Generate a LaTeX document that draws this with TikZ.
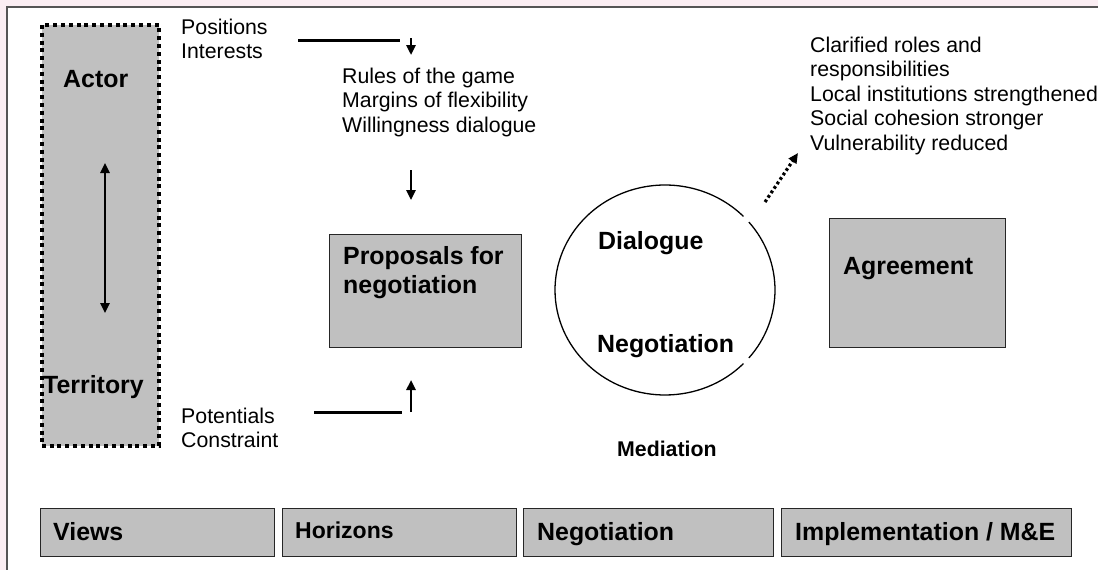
\documentclass[tikz,border=0pt]{standalone}
\usepackage{fontspec}
\setmainfont{Liberation Sans}
\usetikzlibrary{arrows.meta}
\definecolor{boxgray}{HTML}{C0C0C0}
\definecolor{pinkbg}{HTML}{FBEEF3}
\definecolor{framegray}{HTML}{555555}
\begin{document}
\begin{tikzpicture}[x=1pt,y=-1pt,
  reg/.style={font=\fontsize{21.3}{24.5}\selectfont, inner sep=0pt, align=left},
  big/.style={font=\fontsize{24.9}{29}\selectfont\bfseries, inner sep=0pt, align=left},
  graybox/.style={draw=black!85, line width=1.4pt, fill=boxgray, inner sep=0pt, anchor=north west},
  dotbox/.style={draw=black, line width=3.5pt, dash pattern=on 4pt off 3.8pt, fill=boxgray, inner sep=0pt, anchor=north west},
  feed/.style={line width=3pt},
  arr/.style={line width=2.4pt, -{Triangle[length=10pt,width=9pt]}},
  dblarr/.style={line width=2.4pt, {Triangle[length=10pt,width=9pt]}-{Triangle[length=10pt,width=9pt]}},
  dotarr/.style={line width=3.2pt, dash pattern=on 2.8pt off 2.6pt, -{Triangle[length=10pt,width=9pt]}},
  ring/.style={line width=1.3pt, black}
]
\useasboundingbox (0,0) rectangle (1098,570);
\fill[pinkbg] (0,0) rectangle (1098,570);
\fill[white] (7,7) rectangle (1098,570);
\draw[framegray, line width=1.5pt] (7,570) -- (7,7) -- (1098,7);

% Actor / Territory column
\node[dotbox, minimum width=117pt, minimum height=421pt] (actbox) at (40,23) {};
\node[big, anchor=base west] (actor) at (63,87) {Actor};
\node[big, anchor=base west] (terr) at (43,393) {Territory};
\coordinate (dtop) at (105,163);
\coordinate (dbot) at (105,313);
\draw[dblarr] (dtop) -- (dbot);

% upper inputs
\node[reg, anchor=north west] (posint) at (181,18.5) {Positions\\Interests};
\coordinate (pl1) at (298,40);
\coordinate (pl2) at (400,40);
\draw[feed] (pl1) -- (pl2);
\coordinate (a1s) at (411,38);
\coordinate (a1e) at (411,55);
\draw[arr] (a1s) -- (a1e);
\node[reg, anchor=north west] (rules) at (342,67.5) {Rules of the game\\Margins of flexibility\\Willingness dialogue};
\coordinate (a2s) at (411,170);
\coordinate (a2e) at (411,200);
\draw[arr] (a2s) -- (a2e);

% proposals
\node[graybox, minimum width=192pt, minimum height=113pt] (prop) at (329,234) {};
\node[big, anchor=north west] (proptext) at (343,246) {Proposals for\\negotiation};

% lower inputs
\node[reg, anchor=north west] (potcon) at (181,407.5) {Potentials\\Constraint};
\coordinate (ql1) at (314,412);
\coordinate (ql2) at (402,412);
\draw[feed] (ql1) -- (ql2);
\coordinate (a3s) at (411,412);
\coordinate (a3e) at (411,380);
\draw[arr] (a3s) -- (a3e);

% dialogue / negotiation ring
\coordinate (circ) at (665,290);
\draw[ring] ([shift={(44.5:110 and 105)}]circ) arc[start angle=44.5, end angle=315.5, x radius=110, y radius=105];
\draw[ring] ([shift={(-40.3:110 and 105)}]circ) arc[start angle=-40.3, end angle=40.3, x radius=110, y radius=105];
\node[big, anchor=base west] (dial) at (598,249) {Dialogue};
\node[big, anchor=base west] (nego) at (597,352) {Negotiation};
\node[font=\fontsize{21.3}{24.5}\selectfont\bfseries, inner sep=0pt, anchor=base west] (medi) at (617,456) {Mediation};

% outcomes
\coordinate (ds) at (765,202);
\coordinate (de) at (798,153);
\draw[dotarr] (ds) -- (de);
\node[reg, anchor=north west] (outc) at (810,36.5) {Clarified roles and\\responsibilities\\Local institutions strengthened\\Social cohesion stronger\\Vulnerability reduced};

% agreement
\node[graybox, minimum width=176pt, minimum height=129pt] (agr) at (829,218) {};
\node[big, anchor=base west] (agrtext) at (843,274) {Agreement};

% bottom phases
\node[graybox, minimum width=234pt, minimum height=48pt] (pviews) at (40,508) {};
\node[big, anchor=base west] (tviews) at (53,540) {Views};
\node[graybox, minimum width=234pt, minimum height=48pt] (phor) at (282,508) {};
\node[font=\fontsize{23}{27}\selectfont\bfseries, inner sep=0pt, anchor=base west] (thor) at (295,538) {Horizons};
\node[graybox, minimum width=250pt, minimum height=48pt] (pneg) at (523,508) {};
\node[big, anchor=base west] (tneg) at (537,540) {Negotiation};
\node[graybox, minimum width=290pt, minimum height=48pt] (pimp) at (781,508) {};
\node[big, anchor=base west] (timp) at (795,540) {Implementation / M\&E};
\end{tikzpicture}
\end{document}
